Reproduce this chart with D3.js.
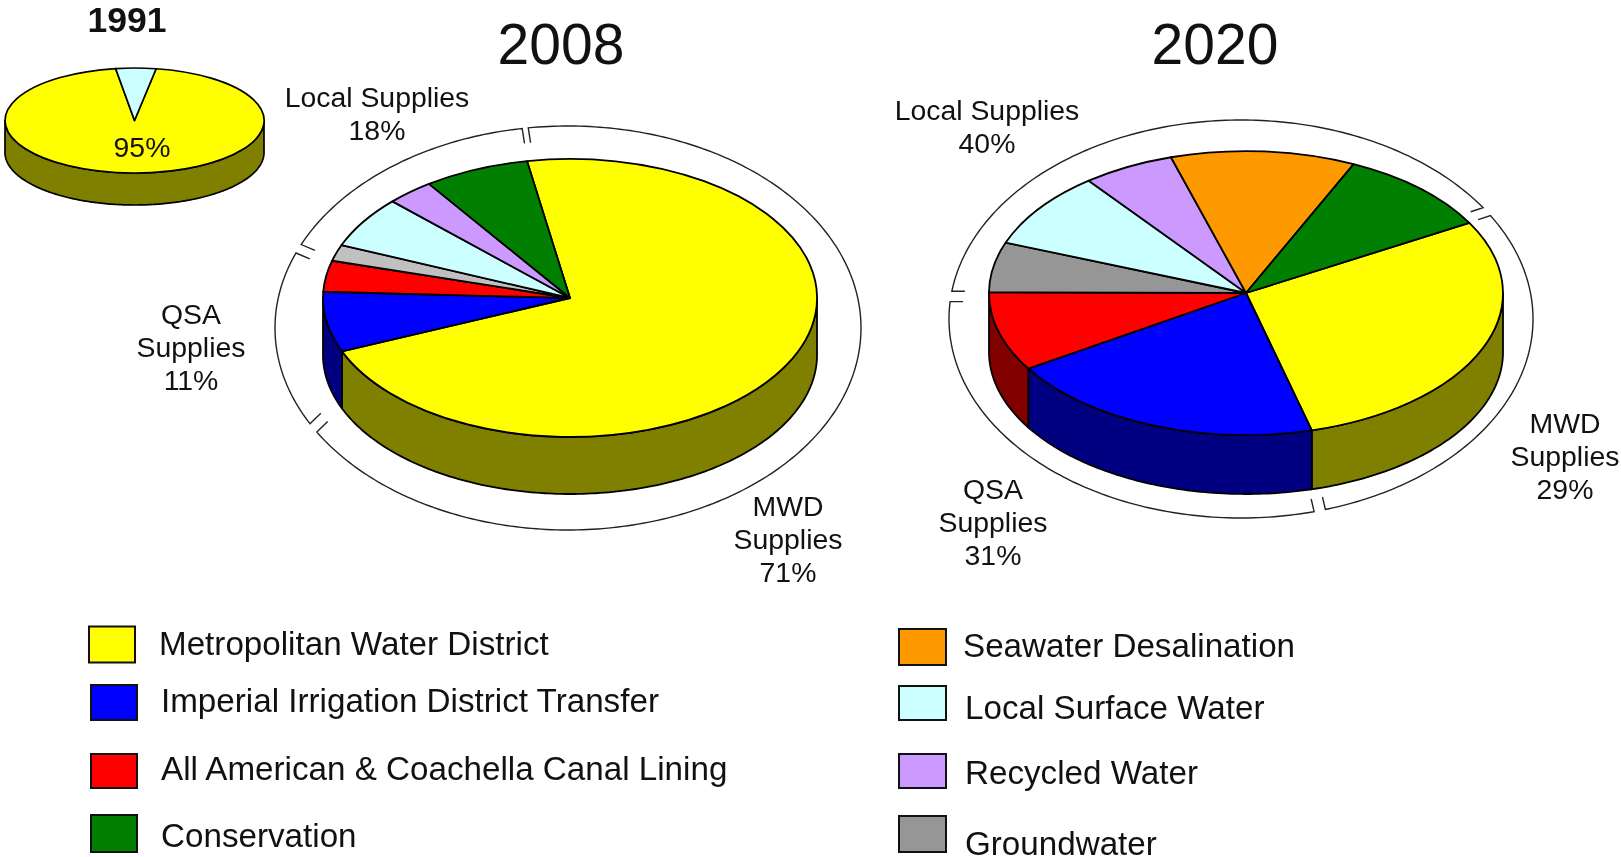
<!DOCTYPE html>
<html>
<head>
<meta charset="utf-8">
<script src="https://cdn.jsdelivr.net/npm/d3@7/dist/d3.min.js"></script>
<style>
html,body{margin:0;padding:0;background:#fff;overflow:hidden}
svg{display:block;filter:blur(0.5px)}
text{font-family:"Liberation Sans",Arial,sans-serif;fill:#111}
</style>
</head>
<body>
<svg id="chart" width="1621" height="857"></svg>
<script>
// ---- data ----
const titles = ["1991", "2008", "2020"];
const series1991 = ["Metropolitan Water District", "Local Surface Water"];
const values1991 = [95, 5];
const series2008 = ["Metropolitan Water District", "Imperial Irrigation District Transfer", "All American & Coachella Canal Lining", "Groundwater", "Local Surface Water", "Recycled Water", "Conservation"];
const values2008 = [71.5, 7, 3.6, 1.9, 6, 3.1, 6.9];
const series2020 = ["Metropolitan Water District", "Imperial Irrigation District Transfer", "All American & Coachella Canal Lining", "Groundwater", "Local Surface Water", "Recycled Water", "Seawater Desalination", "Conservation"];
const values2020 = [29.1, 20.2, 9, 5.7, 8.75, 5.75, 11.6, 9.9];
const labels1991 = [["95%"]];
const labels2008 = [["Local Supplies", "18%"], ["QSA", "Supplies", "11%"], ["MWD", "Supplies", "71%"]];
const labels2020 = [["Local Supplies", "40%"], ["QSA", "Supplies", "31%"], ["MWD", "Supplies", "29%"]];
const legendLeft = ["Metropolitan Water District", "Imperial Irrigation District Transfer", "All American & Coachella Canal Lining", "Conservation"];
const legendRight = ["Seawater Desalination", "Local Surface Water", "Recycled Water", "Groundwater"];

// ---- styles and layout ----
const colors = {
  "Metropolitan Water District": "#ffff00",
  "Imperial Irrigation District Transfer": "#0000ff",
  "All American & Coachella Canal Lining": "#ff0000",
  "Conservation": "#007f00",
  "Seawater Desalination": "#ff9900",
  "Local Surface Water": "#ccffff",
  "Recycled Water": "#cc99ff",
  "Groundwater": "#969696"
};
const deg = Math.PI / 180;
const svg = d3.select("#chart");

const pies = [
  {series: series1991, values: values1991, cx: 134.5, cy: 120.5, rx: 129.5, ry: 52.5, depth: 32, start: 9.6, sw: 1.7},
  {series: series2008, values: values2008, cx: 570, cy: 298, rx: 247, ry: 139, depth: 57, start: -10, sw: 1.8, over: {"Groundwater": "#c0c0c0"},
   ring: {cx: 568, cy: 328, rx: 293, ry: 202, len: 15,
     arcs: [[-7.8, 239, 81, -44], [241.7, 291.8, -44, 23], [294.4, 351, 23, 81]]}},
  {series: series2020, values: values2020, cx: 1246, cy: 293, rx: 257, ry: 142, depth: 59, start: 60.4, sw: 1.8,
   ring: {cx: 1241, cy: 319, rx: 292, ry: 199, len: 13,
     arcs: [[58.7, 163.2, 162, -103], [165.5, 275, -103, 0], [278, 416, 0, 162]]}}
];

function shade(c) {
  const r = d3.rgb(c);
  return d3.rgb(r.r / 2, r.g / 2, r.b / 2).formatHex();
}

function drawPie(p) {
  const g = svg.append("g");
  const x = d3.scaleLinear().domain([-1, 1]).range([p.cx - p.rx, p.cx + p.rx]);
  const y = d3.scaleLinear().domain([-1, 1]).range([p.cy - p.ry, p.cy + p.ry]);
  const pie = d3.pie().sort(null).startAngle(p.start * deg).endAngle((p.start + 360) * deg);
  const arcs = pie(p.values);
  const color = i => (p.over && p.over[p.series[i]]) || colors[p.series[i]];

  // outer bracket ring
  if (p.ring) {
    const r = p.ring;
    const rxS = d3.scaleLinear().domain([-1, 1]).range([r.cx - r.rx, r.cx + r.rx]);
    const ryS = d3.scaleLinear().domain([-1, 1]).range([r.cy - r.ry, r.cy + r.ry]);
    r.arcs.forEach(([a0, a1, d0, d1]) => {
      const pts = d3.range(a0, a1, 1).concat([a1]).map(a => [rxS(Math.sin(a * deg)), ryS(-Math.cos(a * deg))]);
      const first = pts[0], last = pts[pts.length - 1];
      const path = [[first[0] + r.len * Math.cos(d0 * deg), first[1] + r.len * Math.sin(d0 * deg)]]
        .concat(pts, [[last[0] + r.len * Math.cos(d1 * deg), last[1] + r.len * Math.sin(d1 * deg)]]);
      g.append("path").attr("d", d3.line()(path)).attr("fill", "none").attr("stroke", "#222").attr("stroke-width", 1.4);
    });
  }

  // side walls of the front half
  const wall = g.append("g");
  arcs.forEach((d, i) => {
    const a0 = Math.max(d.startAngle / deg, 90), a1 = Math.min(d.endAngle / deg, 270);
    if (a1 <= a0) return;
    const rim = d3.range(a0, a1, 1).concat([a1]).map(a => [x(Math.sin(a * deg)), y(-Math.cos(a * deg))]);
    const outline = rim.concat(rim.slice().reverse().map(q => [q[0], q[1] + p.depth]));
    wall.append("path").attr("d", d3.line()(outline) + "Z")
      .attr("fill", shade(color(i))).attr("stroke", "#000").attr("stroke-width", p.sw).attr("stroke-linejoin", "round");
  });

  // top face
  const arcGen = d3.arc().innerRadius(0).outerRadius(1);
  g.append("g").attr("transform", `translate(${p.cx},${p.cy}) scale(${p.rx},${p.ry})`)
    .selectAll("path").data(arcs).join("path")
    .attr("d", arcGen)
    .attr("fill", (d, i) => color(i))
    .attr("stroke", "#000").attr("stroke-width", p.sw).attr("stroke-linejoin", "round")
    .attr("vector-effect", "non-scaling-stroke");
}
pies.forEach(drawPie);

// titles
const titlePlace = [[127, 32, 35.5, "bold"], [561, 64, 57, "normal"], [1215, 64, 57, "normal"]];
titles.forEach((t, i) => {
  const [tx, ty, fs, w] = titlePlace[i];
  svg.append("text").attr("x", tx).attr("y", ty).attr("text-anchor", "middle")
    .attr("font-size", fs).attr("font-weight", w).text(t);
});

// group labels
function drawLabel(lines, cx, lastBase) {
  lines.forEach((s, i) => {
    svg.append("text").attr("x", cx).attr("y", lastBase - (lines.length - 1 - i) * 33)
      .attr("text-anchor", "middle").attr("font-size", 28.4).text(s);
  });
}
const placeLabels = [
  [labels1991, [[142, 157]]],
  [labels2008, [[377, 139.5], [191, 390], [788, 582]]],
  [labels2020, [[987, 153], [993, 565], [1565, 498.5]]]
];
placeLabels.forEach(([ls, pos]) => ls.forEach((l, i) => drawLabel(l, pos[i][0], pos[i][1])));

// legends
const leftBoxes = [[89, 626.5, 46, 36], [91, 685, 46, 35], [91, 754, 46, 34], [91, 815, 46, 37]];
const leftText = [[159, 655], [161, 712], [161, 780], [161, 847]];
const rightBoxes = [[899, 629, 47, 36], [899, 686, 47, 34], [899, 754, 47, 34], [899, 816, 47, 36]];
const rightText = [[963, 657], [965, 718.5], [965, 784], [965, 855]];
function drawLegend(names, boxes, texts) {
  names.forEach((n, i) => {
    const [bx, by, bw, bh] = boxes[i];
    svg.append("rect").attr("x", bx).attr("y", by).attr("width", bw).attr("height", bh)
      .attr("fill", colors[n]).attr("stroke", "#111").attr("stroke-width", 2);
    svg.append("text").attr("x", texts[i][0]).attr("y", texts[i][1]).attr("font-size", 33.2).text(n);
  });
}
drawLegend(legendLeft, leftBoxes, leftText);
drawLegend(legendRight, rightBoxes, rightText);
</script>
</body>
</html>
